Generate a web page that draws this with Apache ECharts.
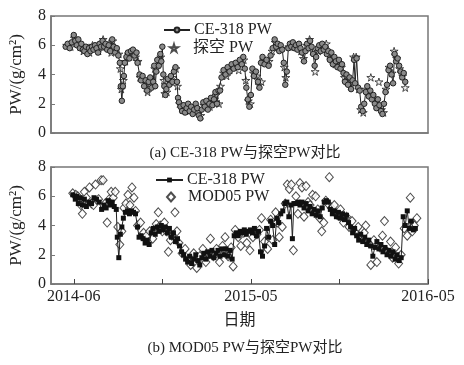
<!DOCTYPE html>
<html><head><meta charset="utf-8">
<script src="https://cdn.jsdelivr.net/npm/echarts@6/dist/echarts.min.js"></script>
<style>html,body{margin:0;padding:0;background:#fff}#c{width:464px;height:365px}</style>
</head><body><div id="c"></div>
<script>
// x values are days since 2014-06-01
const xTickDays = [0, 175, 350, 525, 700];
const xLabelDays = [0, 350, 700];
const xLabels = ['2014-06', '2015-05', '2016-05'];
const yTicks = [0, 2, 4, 6, 8];

// (a) CE-318 PW  [day, PW]
const ceTop = [[-16,5.9],[-12,6.1],[-8,5.8],[-4,6.2],[0,6.7],[3,6.3],[6,6.0],[9,6.4],[12,5.8],[15,6.1],[18,5.7],[21,5.6],[24,5.9],[27,5.4],[30,5.8],[33,5.6],[36,5.9],[39,5.7],[42,6.0],[45,5.8],[48,5.5],[51,6.1],[54,5.9],[57,6.3],[60,5.9],[63,6.1],[66,5.7],[69,6.0],[72,5.6],[76,6.4],[79,5.9],[82,5.5],[85,5.8],[88,5.3],[91,4.8],[93,3.2],[95,2.2],[97,3.2],[99,3.9],[101,4.8],[104,5.2],[107,5.5],[110,5.1],[113,5.6],[117,5.7],[120,5.3],[124,5.5],[126,4.8],[130,4.0],[133,3.6],[136,3.9],[139,3.2],[142,3.6],[145,2.9],[148,3.5],[151,3.8],[154,3.1],[157,3.5],[159,4.6],[161,3.2],[163,4.2],[165,5.0],[168,4.6],[171,5.4],[173,4.9],[175,5.9],[177,4.0],[179,3.2],[181,2.6],[183,3.0],[186,3.7],[189,3.3],[192,3.9],[195,3.5],[198,4.2],[201,4.5],[204,3.5],[206,2.4],[208,2.1],[211,1.8],[214,1.5],[217,1.9],[220,1.4],[223,1.7],[226,2.0],[229,1.5],[232,1.8],[235,1.3],[238,1.6],[241,2.0],[244,1.7],[247,1.2],[250,1.0],[253,1.6],[256,2.1],[259,1.8],[262,2.2],[265,1.6],[268,2.0],[271,2.4],[274,1.9],[277,2.3],[280,2.8],[283,2.0],[286,2.9],[289,2.9],[292,3.8],[296,4.3],[300,4.0],[304,4.5],[308,4.2],[312,4.7],[316,4.4],[320,4.8],[324,4.5],[328,5.0],[332,4.7],[335,5.2],[338,4.4],[341,3.1],[344,2.3],[347,1.8],[350,2.6],[353,4.4],[356,3.9],[360,4.2],[364,3.5],[367,3.1],[370,4.8],[373,5.2],[377,4.7],[381,5.0],[385,4.6],[389,5.3],[393,5.8],[397,6.4],[400,5.9],[403,6.1],[406,5.6],[409,6.0],[412,5.7],[415,4.8],[418,3.3],[421,4.2],[424,5.8],[427,6.1],[430,5.9],[433,6.2],[436,5.8],[439,6.0],[442,5.7],[445,6.1],[448,5.8],[451,5.5],[455,4.9],[458,5.6],[461,6.1],[464,5.8],[467,6.3],[470,5.9],[473,5.4],[476,4.6],[479,5.2],[482,5.8],[485,6.0],[488,5.6],[491,6.1],[494,5.7],[497,5.9],[500,5.4],[503,5.6],[506,5.0],[509,5.5],[512,4.7],[515,5.2],[518,4.9],[521,4.5],[524,5.0],[527,4.4],[530,4.7],[533,4.1],[536,3.5],[539,4.0],[542,3.3],[545,3.8],[548,3.0],[551,3.6],[554,5.0],[556,3.4],[559,5.1],[562,3.1],[565,2.9],[568,1.8],[571,1.5],[574,2.0],[577,2.8],[580,3.2],[583,2.5],[586,2.9],[589,2.3],[592,2.6],[595,2.0],[598,1.7],[601,2.3],[604,1.9],[607,1.5],[610,1.3],[613,2.0],[616,2.8],[619,3.3],[622,4.3],[625,4.6],[628,4.0],[631,3.4],[634,5.4],[637,4.9],[640,5.1],[643,4.6],[646,4.2],[649,3.8],[652,4.1],[655,3.5]];

// (a) 探空 PW  [day, PW]
const sondeTop = [[-14,6.0],[-6,5.9],[1,6.5],[7,6.2],[13,5.9],[19,5.6],[25,5.8],[31,5.5],[37,6.0],[43,5.9],[49,5.6],[55,6.0],[58,6.4],[64,5.9],[70,6.1],[74,5.5],[77,6.3],[83,5.7],[89,5.4],[92,4.4],[94,3.0],[98,3.6],[102,4.9],[108,5.4],[114,5.5],[118,5.4],[122,5.2],[127,4.9],[131,3.8],[137,3.7],[143,3.4],[146,2.8],[152,3.7],[156,3.3],[160,4.4],[164,4.4],[169,4.9],[172,5.2],[178,3.6],[180,2.7],[184,2.8],[190,3.5],[196,3.8],[202,4.4],[205,3.2],[209,2.0],[215,1.6],[221,1.5],[227,1.8],[233,1.6],[239,1.8],[245,1.5],[251,1.2],[257,1.9],[263,2.0],[269,1.8],[275,2.2],[281,2.6],[287,2.0],[290,3.2],[296,4.1],[302,3.9],[308,4.3],[314,4.5],[320,4.6],[326,4.3],[331,4.9],[336,5.0],[340,3.6],[345,2.2],[349,2.0],[355,4.1],[362,3.9],[366,3.3],[371,3.5],[375,5.0],[380,4.8],[386,4.9],[392,5.6],[398,6.2],[404,5.9],[410,5.8],[416,4.5],[419,3.8],[425,5.9],[431,6.0],[437,5.9],[443,5.9],[449,5.6],[454,5.1],[460,6.0],[466,6.4],[472,5.6],[477,4.2],[483,5.6],[489,5.9],[495,5.8],[499,6.1],[505,5.3],[511,5.0],[517,4.7],[523,4.8],[529,4.5],[535,3.8],[541,3.5],[547,3.2],[553,5.2],[558,5.2],[563,3.0],[567,1.6],[572,1.4],[578,3.0],[584,2.7],[587,3.8],[593,2.4],[599,1.9],[603,3.5],[608,1.6],[612,1.4],[617,3.0],[623,4.5],[629,4.1],[633,5.6],[638,5.1],[644,4.4],[650,3.9],[655,3.1]];

// (b) CE-318 PW  [day, PW]
const ceBottom = [[-2,6.1],[3,5.8],[6,6.0],[9,5.5],[13,5.9],[17,5.4],[21,5.8],[25,5.3],[30,5.6],[35,5.5],[40,5.9],[45,5.8],[50,5.6],[55,5.1],[60,5.4],[64,5.2],[68,5.7],[72,5.4],[76,5.6],[80,5.3],[84,5.1],[86,3.2],[89,1.8],[92,3.4],[95,3.9],[98,4.5],[102,4.9],[106,5.0],[110,4.8],[114,5.0],[118,4.9],[122,4.8],[126,3.9],[129,3.2],[133,3.3],[137,3.1],[141,2.8],[145,3.0],[149,2.7],[153,3.5],[157,3.8],[161,3.4],[165,3.9],[169,3.6],[173,4.0],[177,3.7],[181,3.9],[185,3.5],[189,3.8],[193,3.2],[197,3.5],[201,2.9],[205,3.1],[209,2.6],[213,2.2],[217,2.0],[221,1.7],[225,1.5],[229,1.9],[233,1.4],[237,1.7],[241,2.0],[245,1.6],[249,1.3],[253,1.8],[257,2.1],[261,1.7],[265,2.2],[269,1.9],[273,2.3],[277,1.8],[281,2.1],[285,2.3],[289,1.9],[293,2.4],[297,2.0],[301,2.4],[305,1.9],[309,2.3],[313,1.7],[317,3.3],[321,3.5],[325,3.3],[329,3.6],[333,3.5],[337,3.7],[341,3.4],[345,3.6],[349,3.7],[353,3.5],[357,3.8],[361,3.3],[365,3.6],[369,2.2],[373,1.9],[377,2.6],[381,3.8],[385,3.2],[389,4.3],[393,4.0],[397,2.7],[401,4.5],[405,4.2],[409,4.8],[413,5.0],[417,5.5],[421,5.6],[425,4.6],[429,5.4],[432,3.1],[435,5.5],[439,5.5],[443,5.6],[447,5.4],[451,5.6],[455,5.2],[459,5.5],[463,5.0],[467,5.3],[471,4.8],[475,5.1],[479,4.7],[483,5.0],[487,4.6],[491,5.2],[495,5.6],[499,5.7],[503,5.6],[507,5.1],[511,4.8],[515,5.0],[519,4.6],[523,4.9],[527,4.5],[531,4.8],[535,4.4],[539,4.7],[543,4.2],[547,3.9],[551,3.5],[555,3.8],[559,3.3],[563,3.0],[567,3.4],[571,2.9],[575,3.2],[579,2.7],[583,3.0],[587,2.6],[591,1.9],[595,2.5],[599,2.9],[603,2.4],[607,2.7],[611,2.2],[615,2.5],[619,2.0],[623,2.3],[627,1.9],[631,2.2],[635,1.7],[639,2.0],[643,1.6],[647,1.8],[651,4.6],[655,4.0],[659,5.0],[663,3.8],[667,4.3],[671,3.7],[675,3.8]];

// (b) MOD05 PW  [day, PW]
const modBottom = [[-2,6.2],[4,6.1],[8,6.0],[14,5.4],[17,4.8],[21,6.3],[25,5.9],[31,6.6],[35,5.5],[39,5.4],[43,6.8],[49,5.8],[54,7.1],[58,7.1],[62,5.5],[66,4.2],[70,5.8],[74,6.3],[78,5.9],[82,6.3],[87,3.9],[91,2.7],[95,3.6],[99,5.2],[103,5.5],[107,6.1],[111,5.4],[115,6.6],[119,5.9],[122,5.0],[126,4.0],[132,4.2],[138,3.5],[144,3.3],[150,3.6],[156,3.1],[159,3.7],[163,4.1],[167,4.9],[171,4.0],[175,3.6],[179,4.2],[183,3.6],[187,2.2],[191,3.0],[194,3.3],[200,4.9],[204,3.6],[208,2.8],[214,2.1],[220,2.4],[226,1.7],[231,1.3],[237,2.1],[243,1.1],[249,1.9],[255,2.4],[261,1.5],[266,2.0],[270,3.1],[276,1.9],[282,2.4],[288,1.5],[294,2.6],[299,3.2],[305,1.9],[311,2.5],[315,1.2],[319,3.7],[325,3.2],[330,2.6],[336,3.5],[342,2.8],[348,2.3],[354,3.2],[362,3.4],[367,3.7],[371,4.5],[377,2.9],[383,2.4],[389,4.4],[393,3.0],[399,4.9],[402,4.2],[406,3.2],[412,3.9],[418,5.5],[422,6.8],[426,6.5],[430,6.8],[434,2.3],[439,6.0],[443,4.8],[447,6.9],[451,6.6],[455,4.6],[459,6.7],[463,5.6],[467,5.4],[472,6.1],[478,6.0],[482,5.1],[486,4.5],[490,3.6],[494,4.2],[498,5.7],[502,5.5],[505,7.3],[509,5.2],[515,5.4],[521,4.7],[527,5.1],[533,4.2],[539,4.6],[544,3.9],[550,4.3],[556,3.6],[562,3.9],[568,3.2],[574,3.5],[577,4.0],[583,2.8],[587,1.3],[593,3.0],[599,1.5],[605,2.5],[610,3.3],[614,4.3],[620,2.2],[626,2.9],[630,1.8],[636,2.5],[642,1.4],[647,2.0],[653,3.8],[659,3.3],[665,5.9],[669,3.6],[673,4.0],[678,4.5]];

const FONT = "'Liberation Serif', 'Noto Sans CJK SC', serif";
const AX = '#777';
const STAR = 'path://M50,0 L61,35 L98,35 L68,57 L79,91 L50,70 L21,91 L32,57 L2,35 L39,35 Z';

function yAxis(gi) {
  return {
    type: 'value', gridIndex: gi, min: 0, max: 8, interval: 2,
    name: 'PW/(g/cm²)', nameLocation: 'middle', nameGap: 26, nameRotate: 90,
    nameTextStyle: { fontFamily: FONT, fontSize: 17, color: '#222' },
    axisLine: { show: true, onZero: false, lineStyle: { color: AX, width: 1.5 } },
    axisTick: { show: true, inside: true, length: 4, lineStyle: { color: AX } },
    axisLabel: { fontFamily: FONT, fontSize: 16, color: '#222', margin: 5 },
    splitLine: { show: false }
  };
}

function legText(padLeft) {
  return { fontFamily: FONT, fontSize: 16, color: '#222', padding: [0, 0, 0, padLeft] };
}

const chart = echarts.init(document.getElementById('c'));
chart.setOption({
  animation: false,
  backgroundColor: '#fff',
  textStyle: { fontFamily: FONT },
  title: [
    { text: '(a) CE-318 PW与探空PW对比', left: 240, top: 141, textAlign: 'center',
      textStyle: { fontFamily: FONT, fontSize: 15, fontWeight: 'normal', color: '#222' } },
    { text: '(b) MOD05 PW与探空PW对比', left: 240, top: 336, textAlign: 'center',
      textStyle: { fontFamily: FONT, fontSize: 15, fontWeight: 'normal', color: '#222' } }
  ],
  grid: [
    { left: 45, top: 16, width: 383, height: 117, show: true, borderColor: AX, borderWidth: 1.5, backgroundColor: 'transparent' },
    { left: 45, top: 167, width: 383, height: 117, show: true, borderColor: AX, borderWidth: 1.5, backgroundColor: 'transparent' }
  ],
  legend: [
    { data: ['CE-318 PW'], left: 158, top: 17, itemWidth: 26, itemHeight: 6, textStyle: legText(-1) },
    { data: ['探空 PW'], left: 164, top: 35, itemWidth: 8, itemHeight: 8, textStyle: legText(10) },
    { data: ['CE-318 PW '], left: 150, top: 167, itemWidth: 27, itemHeight: 6, textStyle: legText(-1) },
    { data: ['MOD05 PW'], left: 161, top: 184, itemWidth: 8, itemHeight: 9, textStyle: legText(8) }
  ],
  xAxis: [
    { type: 'value', gridIndex: 0, min: -45, max: 700,
      axisLine: { show: true, onZero: false, lineStyle: { color: AX, width: 1.5 } },
      axisTick: { show: false }, axisLabel: { show: false }, splitLine: { show: false } },
    { type: 'value', gridIndex: 1, min: -45, max: 700,
      name: '日期', nameLocation: 'middle', nameGap: 29,
      nameTextStyle: { fontFamily: FONT, fontSize: 16, color: '#222' },
      axisLine: { show: true, onZero: false, lineStyle: { color: AX, width: 1.5 } },
      axisTick: { show: true, inside: true, length: 5, customValues: xTickDays, lineStyle: { color: '#444' } },
      axisLabel: { show: true, customValues: xLabelDays, fontFamily: FONT, fontSize: 16, color: '#222', margin: 5,
        formatter: v => { const i = xLabelDays.indexOf(v); return i >= 0 ? xLabels[i] : ''; } },
      splitLine: { show: false } }
  ],
  yAxis: [yAxis(0), yAxis(1)],
  series: [
    { name: 'CE-318 PW', type: 'line', xAxisIndex: 0, yAxisIndex: 0, data: ceTop,
      symbol: 'circle', symbolSize: 5.5, showAllSymbol: true,
      lineStyle: { color: '#222', width: 1 },
      itemStyle: { color: '#8a8a8a', borderColor: '#222', borderWidth: 1 } },
    { name: '探空 PW', type: 'scatter', xAxisIndex: 0, yAxisIndex: 0, data: sondeTop,
      symbol: STAR, symbolSize: 8, symbolKeepAspect: true,
      itemStyle: { color: '#eee', borderColor: '#222', borderWidth: 1 } },
    { name: 'CE-318 PW ', type: 'line', xAxisIndex: 1, yAxisIndex: 1, data: ceBottom,
      symbol: 'rect', symbolSize: 5, showAllSymbol: true,
      lineStyle: { color: '#222', width: 1 },
      itemStyle: { color: '#111', borderColor: '#111', borderWidth: 0 } },
    { name: 'MOD05 PW', type: 'scatter', xAxisIndex: 1, yAxisIndex: 1, data: modBottom,
      symbol: 'diamond', symbolSize: [8, 9],
      itemStyle: { color: '#fff', borderColor: '#222', borderWidth: 1 } }
  ]
});
</script></body></html>
